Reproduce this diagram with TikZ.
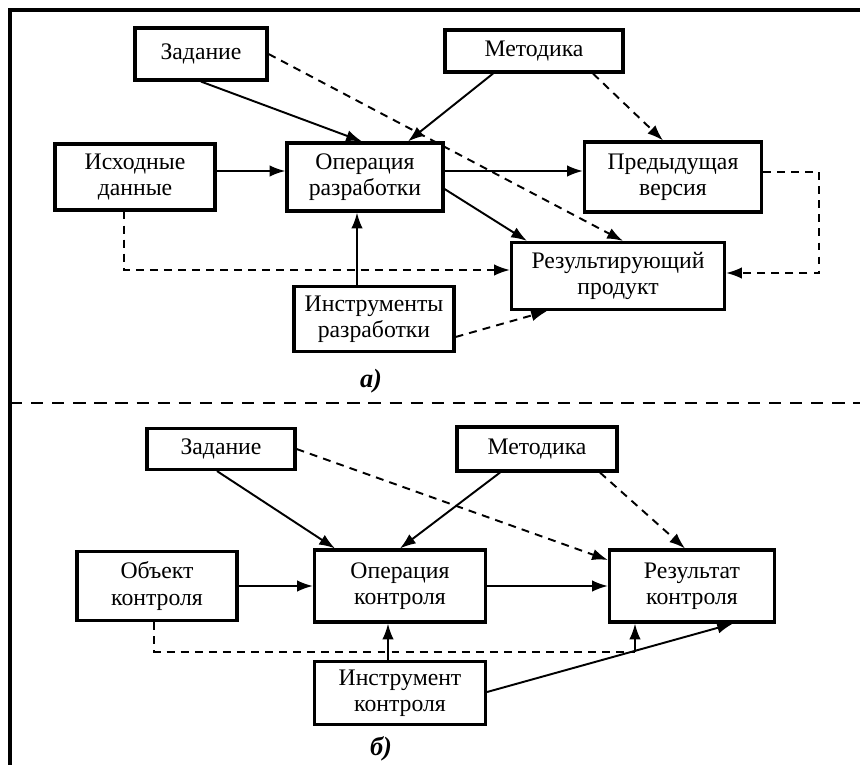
\documentclass[tikz,border=0pt]{standalone}
\usepackage{fontspec}
\setmainfont{Liberation Serif}
\usepackage{tikz}
\usetikzlibrary{calc,arrows.meta}

\begin{document}
\begin{tikzpicture}[x=0.02cm,y=-0.02cm,
    box/.style={draw,line width=1.8pt,fill=white,align=center,inner sep=0pt,font=\fontsize{13.5}{15}\selectfont},
    link/.style={line width=1.1pt,-{Latex[length=9pt,width=6.5pt]}},
    dlink/.style={link,dash pattern=on 4.5pt off 3.5pt},
    lbl/.style={font=\fontsize{15}{17}\selectfont\bfseries\itshape}]
    \useasboundingbox (0,0) rectangle (860,765);
    \draw[line width=2.4pt] (10,765) -- (10,10) -- (860,10);
    \draw[line width=1.6pt,dash pattern=on 7pt off 5pt] (10,403) -- (860,403);

    \node[box,minimum width=2.64cm,minimum height=1.04cm] (zad1) at (201,54) {Задание};
    \node[box,minimum width=3.56cm,minimum height=0.84cm] (met1) at (534,51) {Методика};
    \node[box,minimum width=3.2cm,minimum height=1.32cm] (ish) at (135,177) {Исходные\\данные};
    \node[box,minimum width=3.12cm,minimum height=1.36cm] (oper1) at (365,177) {Операция\\разработки};
    \node[box,minimum width=3.54cm,minimum height=1.4cm] (pred) at (673,177) {Предыдущая\\версия};
    \node[box,minimum width=4.26cm,minimum height=1.34cm] (res1) at (618,276) {Результирующий\\продукт};
    \node[box,minimum width=3.2cm,minimum height=1.3cm] (instr1) at (374,319) {Инструменты\\разработки};
    \node[lbl] (lbla) at (371,381) {а)};

    \draw[link] (zad1.south) -- ($(oper1.north)+(-3,0)$);
    \draw[dlink] (zad1.east) -- ($(res1.north)+(5,0)$);
    \draw[link] ($(met1.south)+(-41,0)$) -- ($(oper1.north)+(43,0)$);
    \draw[dlink] ($(met1.south)+(59,0)$) -- ($(pred.north)+(-10,0)$);
    \draw[link] ($(ish.east)+(0,-6)$) -- ($(oper1.west)+(0,-6)$);
    \draw[link] ($(oper1.east)+(0,-6)$) -- ($(pred.west)+(0,-6)$);
    \draw[link] ($(oper1.east)+(0,12)$) -- ($(res1.north)+(-91,0)$);
    \draw[link] ($(instr1.north)+(-17,0)$) -- ($(oper1.south)+(-8,0)$);
    \draw[dlink] ($(ish.south)+(-11,0)$) |- ($(res1.west)+(0,-6)$);
    \draw[dlink] ($(pred.east)+(0,-5)$) -- ++(56,0) |- ($(res1.east)+(0,-3)$);
    \draw[dlink] ($(instr1.east)+(0,18)$) -- ($(res1.south)+(-71,0)$);

    \node[box,minimum width=2.96cm,minimum height=0.82cm] (zad2) at (221,449) {Задание};
    \node[box,minimum width=3.2cm,minimum height=0.88cm] (met2) at (537,449) {Методика};
    \node[box,minimum width=3.2cm,minimum height=1.38cm] (obj) at (157,586) {Объект\\контроля};
    \node[box,minimum width=3.42cm,minimum height=1.44cm] (oper2) at (400,586) {Операция\\контроля};
    \node[box,minimum width=3.3cm,minimum height=1.44cm] (res2) at (692,586) {Результат\\контроля};
    \node[box,minimum width=3.42cm,minimum height=1.26cm] (instr2) at (400,693) {Инструмент\\контроля};
    \node[lbl] (lblb) at (381,749) {б)};

    \draw[link] ($(zad2.south)+(-4,0)$) -- ($(oper2.north)+(-65,0)$);
    \draw[dlink] (zad2.east) -- ($(res2.west)+(0,-26)$);
    \draw[link] ($(met2.south)+(-37,0)$) -- (oper2.north);
    \draw[dlink] ($(met2.south)+(63,0)$) -- ($(res2.north)+(-7,0)$);
    \draw[link] (obj.east) -- (oper2.west);
    \draw[link] (oper2.east) -- (res2.west);
    \draw[link] ($(instr2.north)+(-12,0)$) -- ($(oper2.south)+(-12,0)$);
    \draw[line width=1.1pt,dash pattern=on 4.5pt off 3.5pt] ($(obj.south)+(-3,0)$) |- ($(res2.south)+(-57,28)$) coordinate (knee);
    \draw[link] (knee) -- ($(res2.south)+(-57,0)$);
    \draw[link] ($(instr2.east)+(0,-1)$) -- ($(res2.south)+(41,0)$);
\end{tikzpicture}
\end{document}
